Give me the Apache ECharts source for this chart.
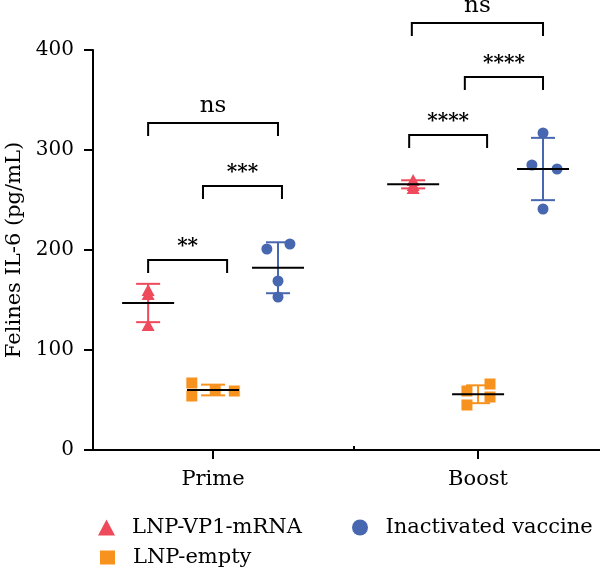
<!DOCTYPE html>
<html>
<head>
<meta charset="utf-8">
<script src="https://cdn.jsdelivr.net/npm/echarts@6/dist/echarts.min.js"></script>
<style>
  html, body { margin: 0; padding: 0; background: #fff; }
  #chart { width: 600px; height: 574px; }
</style>
</head>
<body>
<div id="chart"></div>
<script>
const groups = ['Prime', 'Boost']
const seriesNames = ['LNP-VP1-mRNA', 'LNP-empty', 'Inactivated vaccine']
const seriesOffset = [-0.245, 0, 0.245] // position of each series inside a group

// values, per group (Prime, Boost)
const vp1Values = [[160, 156, 125], [270, 265, 262]]
const vp1Jitter = [[0, 0, 0], [0, 0, 0]]
const emptyValues = [[67, 54, 60, 59], [59, 45, 66, 53]]
const emptyJitter = [[-0.08, -0.08, 0.008, 0.08], [-0.042, -0.042, 0.045, 0.045]]
const inactValues = [[201, 206, 169, 153], [317, 285, 281, 241]]
const inactJitter = [[-0.042, 0.045, 0, 0], [0, -0.042, 0.053, 0]]

// significance brackets
const bracketFrom = [-0.245, -0.038, -0.245, 0.75, 0.95, 0.74]
const bracketTo = [0.245, 0.26, 0.053, 1.245, 1.245, 1.034]
const bracketY = [327, 264, 190, 427, 373, 315]
const bracketText = ['ns', '***', '**', 'ns', '****', '****']

const yTicks = [0, 100, 200, 300, 400]

const colors = ['#EF4A5C', '#F7921E', '#4767B1']
const symbols = ['triangle', 'rect', 'circle']
const symbolSizes = [[13, 12], 12, 11]
const font = 'DejaVu Serif'

const allValues = [vp1Values, emptyValues, inactValues]
const allJitter = [vp1Jitter, emptyJitter, inactJitter]

function mean(arr) {
  return arr.reduce((a, b) => a + b, 0) / arr.length
}
function sd(arr) {
  const m = mean(arr)
  return Math.sqrt(arr.reduce((a, b) => a + (b - m) * (b - m), 0) / (arr.length - 1))
}

const scatterSeries = []
const statData = []
allValues.forEach((vals, s) => {
  const pts = []
  vals.forEach((groupVals, g) => {
    groupVals.forEach((v, i) => {
      pts.push([g + seriesOffset[s] + allJitter[s][g][i], v])
    })
    statData.push([g + seriesOffset[s], mean(groupVals), sd(groupVals), s])
  })
  scatterSeries.push({
    name: seriesNames[s],
    type: 'scatter',
    symbol: symbols[s],
    symbolSize: symbolSizes[s],
    itemStyle: { color: colors[s], borderColor: '#fff', borderWidth: s === 1 ? 1 : 0, opacity: 1 },
    data: pts,
    z: 2
  })
})

const bracketData = bracketFrom.map((f, i) => [f, bracketTo[i], bracketY[i]])

// one legend box per entry, laid out in two columns
const legendBase = {
  orient: 'horizontal',
  itemWidth: 17,
  itemHeight: 16,
  textStyle: { color: '#000', fontFamily: font, fontSize: 21, padding: [0, 0, 0, 12] }
}

const chart = echarts.init(document.getElementById('chart'))
chart.setOption({
  animation: false,
  grid: { left: 93, right: 0, top: 50, bottom: 124, outerBoundsMode: 'none' },
  xAxis: [
    {
      type: 'value',
      min: -0.453,
      max: 1.46,
      splitLine: { show: false },
      axisLine: { show: true, onZero: false, lineStyle: { color: '#000', width: 2 } },
      axisTick: { show: true, customValues: [0, 1], length: 9, lineStyle: { color: '#000', width: 2 } },
      axisLabel: {
        customValues: [0, 1],
        formatter: v => groups[Math.round(v)],
        color: '#000',
        fontFamily: font,
        fontSize: 21,
        margin: 19
      }
    },
    {
      type: 'value',
      position: 'bottom',
      min: -0.453,
      max: 1.46,
      splitLine: { show: false },
      axisLine: { show: false, onZero: false },
      axisTick: { show: true, inside: true, customValues: [0.53], length: 4, lineStyle: { color: '#000', width: 2 } },
      axisLabel: { show: false }
    }
  ],
  yAxis: {
    type: 'value',
    min: 0,
    max: 400,
    interval: 100,
    name: 'Felines IL-6 (pg/mL)',
    nameLocation: 'middle',
    nameGap: 64,
    nameTextStyle: { color: '#000', fontFamily: font, fontSize: 21 },
    splitLine: { show: false },
    axisLine: { show: true, onZero: false, lineStyle: { color: '#000', width: 2 } },
    axisTick: { show: true, length: 9, lineStyle: { color: '#000', width: 2 } },
    axisLabel: { color: '#000', fontFamily: font, fontSize: 20, margin: 19, customValues: yTicks }
  },
  legend: [
    { ...legendBase, left: 93, top: 512, data: ['LNP-VP1-mRNA'] },
    { ...legendBase, left: 347, top: 512, data: ['Inactivated vaccine'] },
    { ...legendBase, left: 93, top: 542, data: ['LNP-empty'] }
  ],
  series: [
    ...scatterSeries,
    {
      type: 'custom',
      name: 'stats',
      clip: false,
      z: 5,
      encode: { x: 0, y: 1 },
      data: statData,
      renderItem(params, api) {
        const x = api.value(0)
        const m = api.value(1)
        const d = api.value(2)
        const color = colors[api.value(3)]
        const top = api.coord([x, m + d])
        const bot = api.coord([x, m - d])
        const mid = api.coord([x, m])
        const capW = 12
        const meanW = 26
        const ls = { stroke: color, lineWidth: 2 }
        return {
          type: 'group',
          children: [
            { type: 'line', shape: { x1: top[0], y1: top[1], x2: bot[0], y2: bot[1] }, style: ls },
            { type: 'line', shape: { x1: top[0] - capW, y1: top[1], x2: top[0] + capW, y2: top[1] }, style: ls },
            { type: 'line', shape: { x1: bot[0] - capW, y1: bot[1], x2: bot[0] + capW, y2: bot[1] }, style: ls },
            { type: 'line', shape: { x1: mid[0] - meanW, y1: mid[1], x2: mid[0] + meanW, y2: mid[1] }, style: { stroke: '#000', lineWidth: 2 } }
          ]
        }
      }
    },
    {
      type: 'custom',
      name: 'brackets',
      clip: false,
      z: 5,
      encode: { x: [0, 1], y: 2 },
      data: bracketData,
      renderItem(params, api) {
        const p1 = api.coord([api.value(0), api.value(2)])
        const p2 = api.coord([api.value(1), api.value(2)])
        const leg = 13
        const label = bracketText[params.dataIndex]
        const isNs = label === 'ns'
        return {
          type: 'group',
          children: [
            {
              type: 'polyline',
              shape: { points: [[p1[0], p1[1] + leg], [p1[0], p1[1]], [p2[0], p2[1]], [p2[0], p2[1] + leg]] },
              style: { stroke: '#000', lineWidth: 2, fill: null }
            },
            {
              type: 'text',
              x: (p1[0] + p2[0]) / 2,
              y: p1[1] - (isNs ? 17 : 13),
              style: {
                text: label,
                fill: '#000',
                font: (isNs ? '23px ' : 'bold 20px ') + '"' + font + '"',
                align: 'center',
                verticalAlign: 'middle'
              }
            }
          ]
        }
      }
    }
  ]
})
</script>
</body>
</html>
